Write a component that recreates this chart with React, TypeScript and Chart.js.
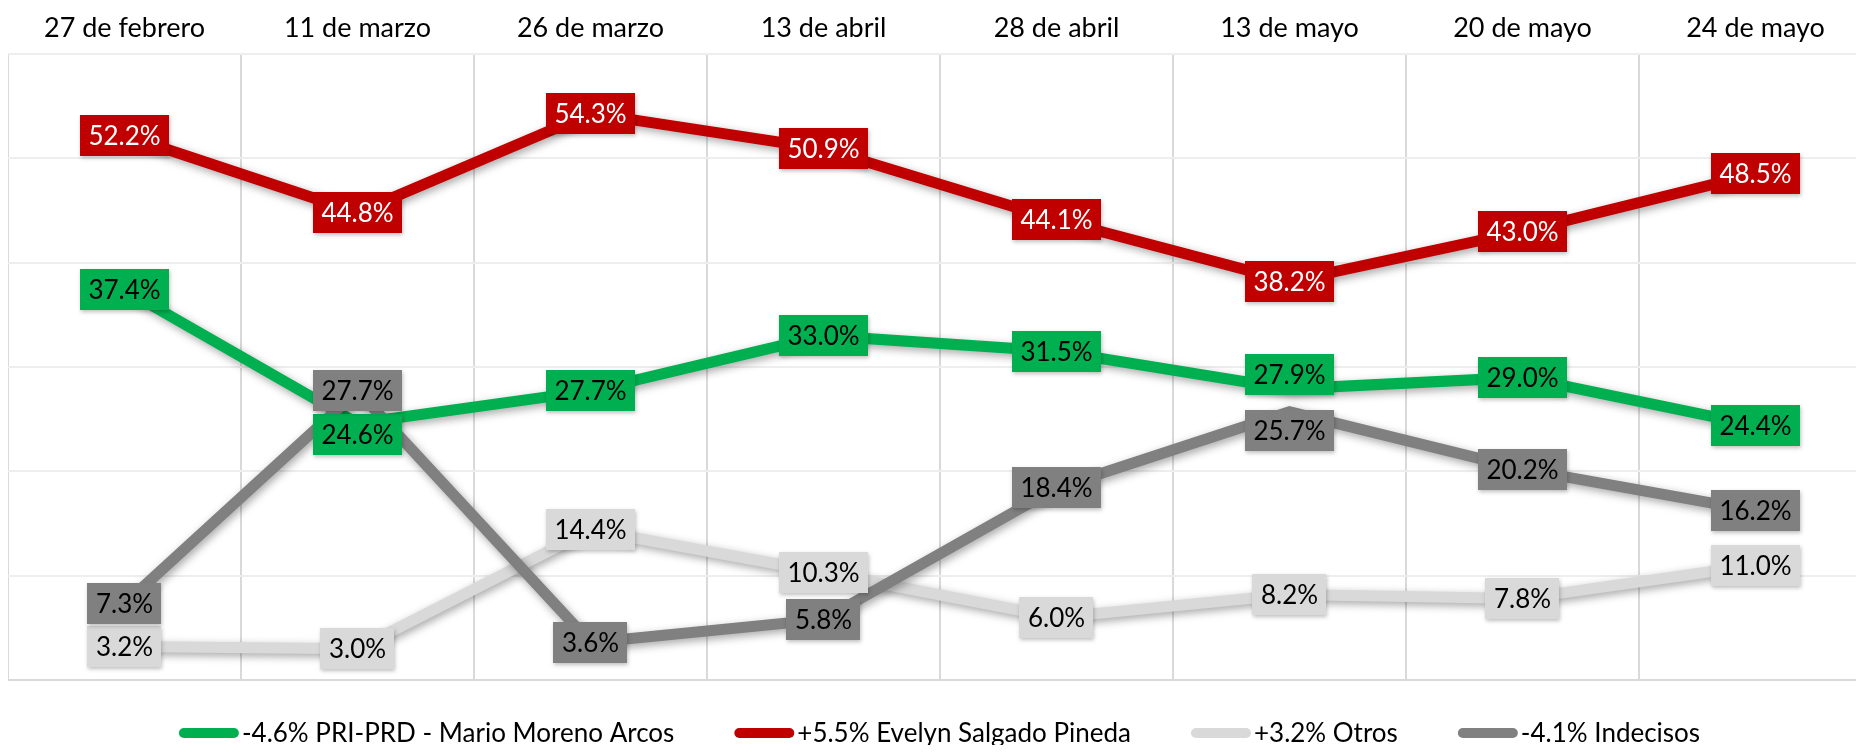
import React, { useEffect, useRef } from 'react';
import { Chart, registerables } from 'chart.js';

Chart.register(...registerables);

// ---------- data ----------
const categories = [
  '27 de febrero',
  '11 de marzo',
  '26 de marzo',
  '13 de abril',
  '28 de abril',
  '13 de mayo',
  '20 de mayo',
  '24 de mayo',
];
const priPrd = [37.4, 24.6, 27.7, 33.0, 31.5, 27.9, 29.0, 24.4];
const salgado = [52.2, 44.8, 54.3, 50.9, 44.1, 38.2, 43.0, 48.5];
const otros = [3.2, 3.0, 14.4, 10.3, 6.0, 8.2, 7.8, 11.0];
const indecisos = [7.3, 27.7, 3.6, 5.8, 18.4, 25.7, 20.2, 16.2];
const seriesNames = [
  '-4.6% PRI-PRD - Mario Moreno Arcos',
  '+5.5% Evelyn Salgado Pineda',
  '+3.2% Otros',
  '-4.1% Indecisos',
];
const yMin = 0;
const yMax = 60;
const yStep = 10;

// ---------- styles ----------
const COLORS = ['#00B050', '#C00000', '#D9D9D9', '#808080'];
const LABEL_TEXT = ['#000000', '#FFFFFF', '#000000', '#000000'];
const FONT = 'Lato, "Noto Sans", sans-serif';
// label vertical nudges (px) to avoid overlaps: "dataset-index"
const LABEL_NUDGE: Record<string, number> = { '0-1': 11, '0-5': -14, '3-5': 19 };

const lineShadow = {
  id: 'lineShadow',
  beforeDatasetDraw(chart: any) {
    const ctx = chart.ctx;
    ctx.save();
    ctx.shadowColor = 'rgba(0,0,0,0.35)';
    ctx.shadowBlur = 8;
    ctx.shadowOffsetX = 2;
    ctx.shadowOffsetY = 3;
  },
  afterDatasetDraw(chart: any) {
    chart.ctx.restore();
  },
};

const boxLabels = {
  id: 'boxLabels',
  afterDatasetsDraw(chart: any) {
    const ctx = chart.ctx;
    ctx.save();
    ctx.font = `26px ${FONT}`;
    ctx.textAlign = 'center';
    ctx.textBaseline = 'middle';
    const h = 41;
    chart.data.datasets.forEach((ds: any, i: number) => {
      const meta = chart.getDatasetMeta(i);
      meta.data.forEach((pt: any, j: number) => {
        const v = ds.data[j];
        const txt = v.toFixed(1) + '%';
        const tw = ctx.measureText(txt).width;
        const w = tw + 17;
        const x = pt.x;
        const y = pt.y + (LABEL_NUDGE[`${i}-${j}`] || 0);
        ctx.save();
        ctx.shadowColor = 'rgba(0,0,0,0.25)';
        ctx.shadowBlur = 4;
        ctx.shadowOffsetX = 1;
        ctx.shadowOffsetY = 2;
        ctx.fillStyle = COLORS[i];
        ctx.fillRect(Math.round(x - w / 2), Math.round(y - h / 2), Math.round(w), h);
        ctx.restore();
        ctx.fillStyle = LABEL_TEXT[i];
        ctx.fillText(txt, x, y + 1);
      });
    });
    ctx.restore();
  },
};

const customLegend = {
  id: 'customLegend',
  afterDraw(chart: any) {
    const ctx = chart.ctx;
    ctx.save();
    ctx.font = `26px ${FONT}`;
    ctx.textBaseline = 'middle';
    ctx.textAlign = 'left';
    const symW = 60;
    const symH = 10;
    const symGap = 3;
    const itemGap = 60;
    const items = chart.data.datasets.map((ds: any) => ({
      label: ds.label,
      color: ds.borderColor,
      w: symW + symGap + ctx.measureText(ds.label).width,
    }));
    const total = items.reduce((s: number, it: any) => s + it.w, 0) + itemGap * (items.length - 1);
    let x = (chart.width - total) / 2;
    const y = 721;
    items.forEach((it: any) => {
      ctx.fillStyle = it.color;
      ctx.beginPath();
      const r = symH / 2;
      ctx.moveTo(x + r, y - r);
      ctx.lineTo(x + symW - r, y - r);
      ctx.arc(x + symW - r, y, r, -Math.PI / 2, Math.PI / 2);
      ctx.lineTo(x + r, y + r);
      ctx.arc(x + r, y, r, Math.PI / 2, (3 * Math.PI) / 2);
      ctx.closePath();
      ctx.fill();
      ctx.fillStyle = '#000000';
      ctx.fillText(it.label, x + symW + symGap, y + 1);
      x += it.w + itemGap;
    });
    ctx.restore();
  },
};

export default function App() {
  const canvasRef = useRef<HTMLCanvasElement | null>(null);

  useEffect(() => {
    if (!canvasRef.current) return;
    const series = [priPrd, salgado, otros, indecisos];
    const chart = new Chart(canvasRef.current, {
      type: 'line',
      data: {
        labels: categories,
        datasets: series.map((d, i) => ({
          label: seriesNames[i],
          data: d,
          borderColor: COLORS[i],
          backgroundColor: COLORS[i],
          borderWidth: 11,
          pointRadius: 0,
          pointHoverRadius: 0,
          tension: 0,
          fill: false,
          order: series.length - 1 - i,
        })),
      },
      options: {
        animation: false,
        responsive: true,
        maintainAspectRatio: false,
        layout: { padding: { top: -9.5, bottom: 69, left: 1, right: 0 } },
        plugins: {
          legend: { display: false },
          tooltip: { enabled: false },
        },
        scales: {
          x: {
            position: 'top',
            offset: true,
            grid: {
              offset: true,
              drawTicks: false,
              color: '#D9D9D9',
              lineWidth: 2,
            },
            border: { display: false },
            ticks: {
              padding: 9.5,
              color: '#000000',
              font: { family: FONT, size: 27 },
              maxRotation: 0,
              autoSkip: false,
            },
          },
          y: {
            min: yMin,
            max: yMax,
            ticks: { stepSize: yStep, display: false },
            grid: {
              drawTicks: false,
              lineWidth: 2,
              color: (c: any) => (c.tick && c.tick.value === yMin ? '#D9D9D9' : '#EEEEEE'),
            },
            border: { display: false },
          },
        },
      },
      plugins: [lineShadow, boxLabels, customLegend],
    });
    return () => chart.destroy();
  }, []);

  return (
    <div style={{ width: 1856, height: 737, overflow: 'hidden', position: 'relative' }}>
      <div style={{ position: 'absolute', left: -1, top: 4, width: 1865, height: 737 }}>
        <canvas ref={canvasRef} />
      </div>
    </div>
  );
}
